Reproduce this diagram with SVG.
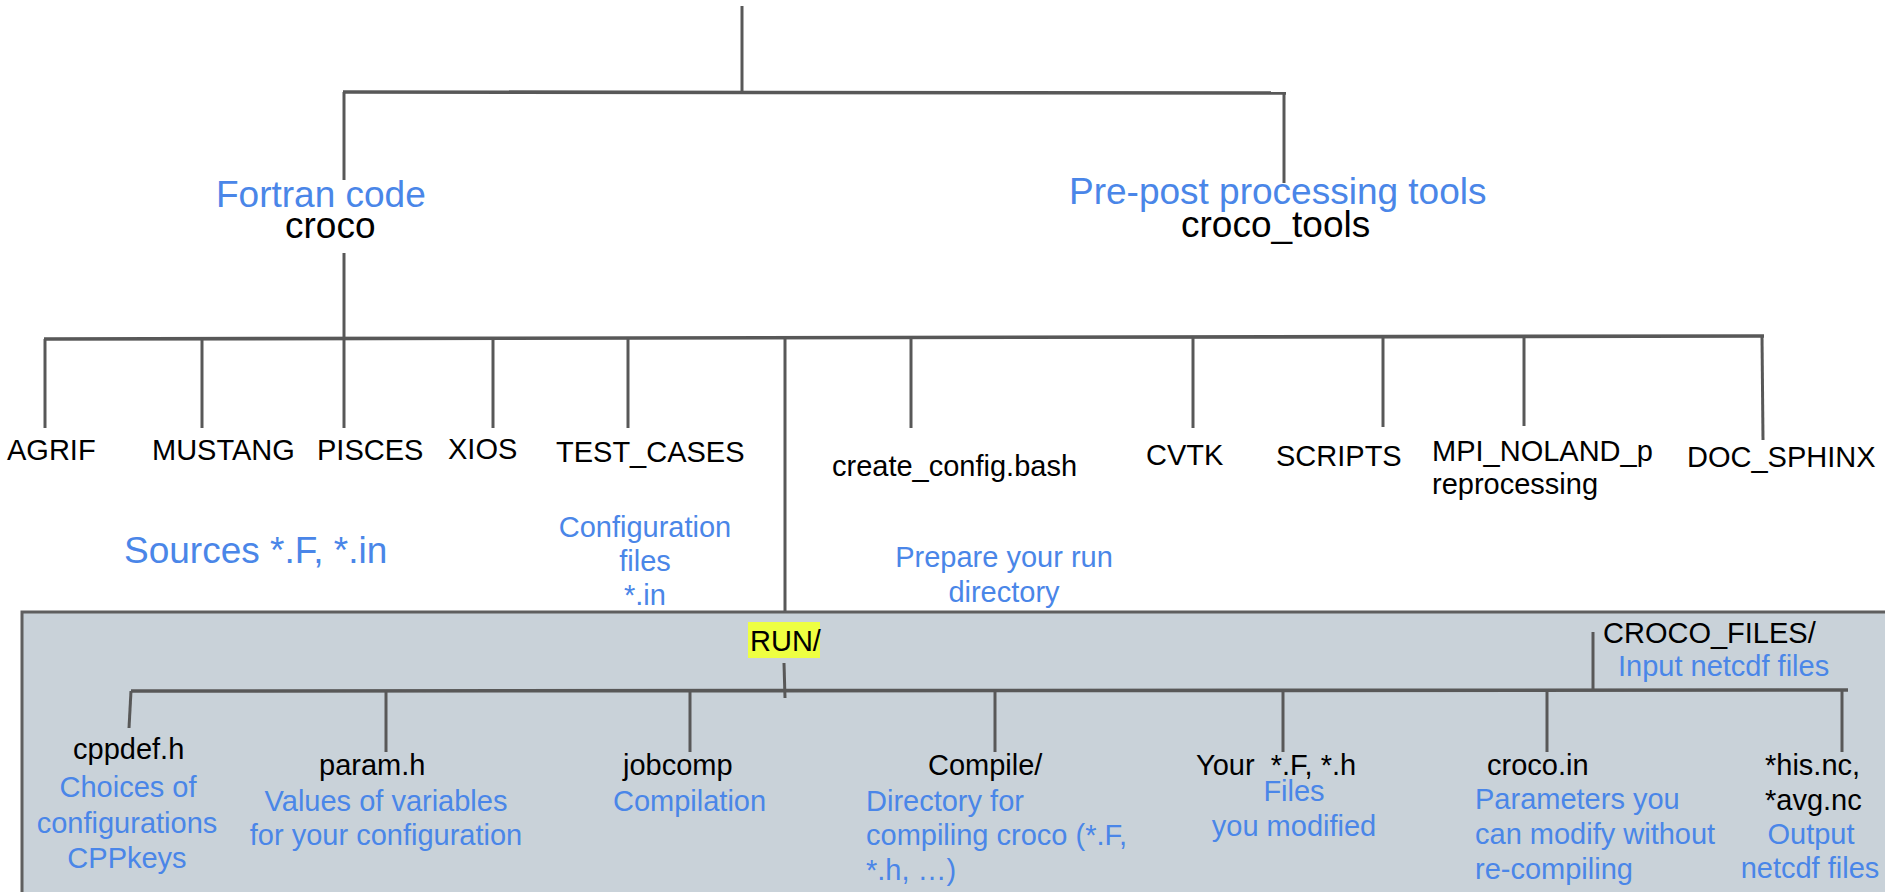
<svg xmlns="http://www.w3.org/2000/svg" width="1885" height="892" viewBox="0 0 1885 892">
<style>
text{font-family:"Liberation Sans",Arial,sans-serif;white-space:pre}
.big{font-size:37px}
.med{font-size:29px}
.blk{fill:#000}
.blu{fill:#4a86e8}
.mid{text-anchor:middle}
.ln{stroke:#585858;stroke-width:3;fill:none;stroke-linecap:butt}
.hz{stroke:#585858;stroke-width:3.6;fill:none}
</style>
<rect width="1885" height="892" fill="#fff"/>
<g id="connectors-top">
<line class="ln" x1="742" y1="6" x2="742" y2="92"/>
<line class="hz" x1="343" y1="92" x2="1286" y2="93"/>
<line class="ln" x1="344" y1="92" x2="344" y2="180"/>
<line class="ln" x1="1284" y1="93" x2="1284" y2="183"/>
<line class="ln" x1="344" y1="253" x2="344" y2="338"/>
<line class="hz" x1="44" y1="339" x2="1764" y2="336"/>
<line class="ln" x1="45" y1="339" x2="45" y2="428"/>
<line class="ln" x1="202" y1="339" x2="202" y2="428"/>
<line class="ln" x1="344" y1="338" x2="344" y2="428"/>
<line class="ln" x1="493" y1="338" x2="493" y2="428"/>
<line class="ln" x1="628" y1="338" x2="628" y2="428"/>
<line class="ln" x1="785" y1="338" x2="785" y2="612"/>
<line class="ln" x1="911" y1="338" x2="911" y2="428"/>
<line class="ln" x1="1193" y1="337" x2="1193" y2="428"/>
<line class="ln" x1="1383" y1="337" x2="1383" y2="427"/>
<line class="ln" x1="1524" y1="337" x2="1524" y2="426"/>
<line class="ln" x1="1762" y1="336" x2="1763" y2="440"/>
</g>
<g id="run-box">
<rect x="22" y="612" width="1880" height="300" fill="#c9d2d9" stroke="#5f5f5f" stroke-width="3"/>
</g>
<g id="connectors-run">
<line class="ln" x1="784" y1="663" x2="785" y2="698"/>
<line class="hz" x1="131" y1="691" x2="1848" y2="690"/>
<line class="ln" x1="131" y1="691" x2="129" y2="728"/>
<line class="ln" x1="386" y1="691" x2="386" y2="752"/>
<line class="ln" x1="690" y1="691" x2="690" y2="752"/>
<line class="ln" x1="995" y1="690" x2="995" y2="752"/>
<line class="ln" x1="1283" y1="690" x2="1283" y2="752"/>
<line class="ln" x1="1547" y1="690" x2="1547" y2="752"/>
<line class="ln" x1="1842" y1="690" x2="1842" y2="752"/>
<line class="ln" x1="1593" y1="632" x2="1593" y2="690"/>
</g>
<g id="node-croco"><text class="big blu" x="216" y="207">Fortran code</text><text class="big blk" x="285" y="238">croco</text></g>
<g id="node-croco-tools"><text class="big blu" x="1069" y="204">Pre-post processing tools</text><text class="big blk" x="1181" y="237">croco_tools</text></g>
<g id="node-agrif"><text class="med blk" x="7" y="460">AGRIF</text></g>
<g id="node-mustang"><text class="med blk" x="152" y="460">MUSTANG</text></g>
<g id="node-pisces"><text class="med blk" x="317" y="460">PISCES</text></g>
<g id="node-xios"><text class="med blk" x="448" y="459">XIOS</text></g>
<g id="node-test-cases"><text class="med blk" x="556" y="462">TEST_CASES</text></g>
<g id="node-create-config"><text class="med blk" x="832" y="476">create_config.bash</text></g>
<g id="node-cvtk"><text class="med blk" x="1146" y="465">CVTK</text></g>
<g id="node-scripts"><text class="med blk" x="1276" y="466">SCRIPTS</text></g>
<g id="node-mpi"><text class="med blk" x="1432" y="461">MPI_NOLAND_p</text><text class="med blk" x="1432" y="494">reprocessing</text></g>
<g id="node-doc"><text class="med blk" x="1687" y="467">DOC_SPHINX</text></g>
<g id="note-sources"><text class="big blu" x="124" y="563">Sources *.F, *.in</text></g>
<g id="note-config"><text class="med blu mid" x="645" y="537">Configuration</text><text class="med blu mid" x="645" y="571">files</text><text class="med blu mid" x="645" y="605">*.in</text></g>
<g id="note-prepare"><text class="med blu mid" x="1004" y="567">Prepare your run</text><text class="med blu mid" x="1004" y="602">directory</text></g>
<g id="node-run"><rect x="748" y="622" width="72" height="36" fill="#eeff41"/><text class="med blk" x="750" y="651">RUN/</text></g>
<g id="node-croco-files"><text class="med blk" x="1603" y="643">CROCO_FILES/</text><text class="med blu" x="1618" y="676">Input netcdf files</text></g>
<g id="node-cppdef"><text class="med blk" x="73" y="759">cppdef.h</text><text class="med blu mid" x="128" y="797">Choices of</text><text class="med blu mid" x="127" y="833">configurations</text><text class="med blu mid" x="127" y="868">CPPkeys</text></g>
<g id="node-param"><text class="med blk" x="319" y="775">param.h</text><text class="med blu mid" x="386" y="811">Values of variables</text><text class="med blu mid" x="386" y="845">for your configuration</text></g>
<g id="node-jobcomp"><text class="med blk" x="623" y="775">jobcomp</text><text class="med blu" x="613" y="811">Compilation</text></g>
<g id="node-compile"><text class="med blk" x="928" y="775">Compile/</text><text class="med blu" x="866" y="811">Directory for</text><text class="med blu" x="866" y="845">compiling croco (*.F,</text><text class="med blu" x="866" y="880">*.h, …)</text></g>
<g id="node-your"><text class="med blk" x="1196" y="775">Your  *.F, *.h</text><text class="med blu mid" x="1294" y="801">Files</text><text class="med blu mid" x="1294" y="836">you modified</text></g>
<g id="node-crocoin"><text class="med blk" x="1487" y="775">croco.in</text><text class="med blu" x="1475" y="809">Parameters you</text><text class="med blu" x="1475" y="844">can modify without</text><text class="med blu" x="1475" y="879">re-compiling</text></g>
<g id="node-output"><text class="med blk" x="1765" y="775">*his.nc,</text><text class="med blk" x="1765" y="810">*avg.nc</text><text class="med blu mid" x="1811" y="844">Output</text><text class="med blu mid" x="1810" y="878">netcdf files</text></g>
</svg>
